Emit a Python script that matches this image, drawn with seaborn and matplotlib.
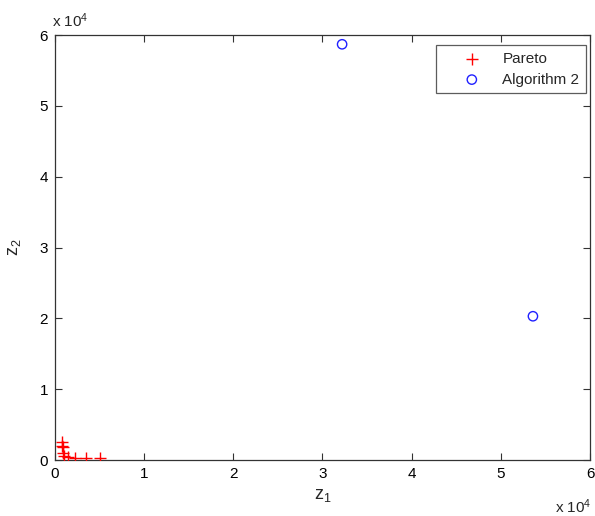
import matplotlib
matplotlib.use("Agg")
import matplotlib.pyplot as plt
import seaborn as sns
import numpy as np

# Pareto front points (z1, z2)
pareto_z1 = [800, 800, 850, 900, 1000, 1500, 2200, 3500, 5000]
pareto_z2 = [2600, 2000, 1800, 1000, 600, 450, 350, 300, 250]

# Solutions found by Algorithm 2
alg2_z1 = [32200, 53600]
alg2_z2 = [58700, 20300]

tick_vals = [0, 1, 2, 3, 4, 5, 6]
scale = 1e4

sns.set_style("ticks")
plt.rcParams["font.family"] = ["Liberation Sans", "DejaVu Sans"]
plt.rcParams["mathtext.fontset"] = "custom"
plt.rcParams["mathtext.rm"] = "Liberation Sans"
plt.rcParams["mathtext.it"] = "Liberation Sans"

fig = plt.figure(figsize=(5.95, 5.16), dpi=100)
ax = fig.add_axes([0.0924, 0.1085, 0.8992, 0.8235])

sns.scatterplot(x=pareto_z1, y=pareto_z2, marker="+", color="red", s=70,
                linewidth=1.0, label="Pareto", ax=ax, zorder=3)
sns.scatterplot(x=alg2_z1, y=alg2_z2, marker="o", color="#2020ff",
                facecolor="none", edgecolor="#2020ff", s=45, linewidth=1.0,
                label="Algorithm 2", ax=ax, zorder=3)

ax.set_xlim(0, 6 * scale)
ax.set_ylim(0, 6 * scale)
ax.set_xticks([v * scale for v in tick_vals])
ax.set_yticks([v * scale for v in tick_vals])
ax.set_xticklabels([str(v) for v in tick_vals])
ax.set_yticklabels([str(v) for v in tick_vals])

ax.tick_params(direction="in", length=5, width=0.8, top=True, right=True,
               labelsize=11, colors="#333333", labelcolor="black", pad=5)
for sp in ax.spines.values():
    sp.set_visible(True)
    sp.set_color("#333333")
    sp.set_linewidth(0.9)

ax.set_xlabel(r"z$_1$", fontsize=13, labelpad=4)
ax.set_ylabel(r"z$_2$", fontsize=13, labelpad=12)

# Exponent annotations for the scaled axes
ax.text(-0.005, 1.012, r"x 10$^{4}$", transform=ax.transAxes, fontsize=11,
        ha="left", va="bottom")
ax.text(1.002, -0.088, r"x 10$^{4}$", transform=ax.transAxes, fontsize=11,
        ha="right", va="top")

leg = ax.legend(loc="upper right", bbox_to_anchor=(0.993, 0.977),
                fontsize=11, frameon=True, fancybox=False,
                edgecolor="#333333", borderpad=0.45, handletextpad=0.1,
                borderaxespad=0.0, handlelength=3.8, labelspacing=0.45)
leg.get_frame().set_linewidth(0.9)

fig.savefig("out.png", dpi=100, facecolor="white")
